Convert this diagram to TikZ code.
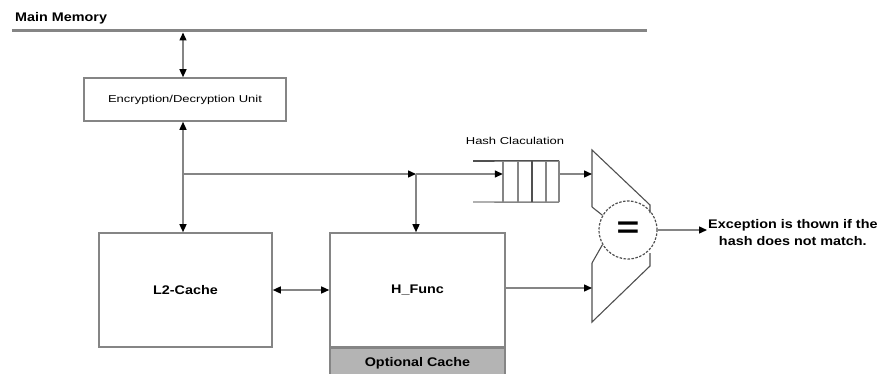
\documentclass[tikz,border=0pt]{standalone}
\usepackage{fontspec}
\usepackage{graphicx}
\setmainfont{Liberation Sans}
\newfontfamily\widefont[FakeStretch=1.3]{Liberation Sans}
\newfontfamily\boldwide[FakeStretch=1.15]{Liberation Sans}
\usetikzlibrary{arrows.meta}
\definecolor{linegray}{HTML}{858585}
\definecolor{darkline}{HTML}{505050}
\definecolor{cachegray}{HTML}{B4B4B4}
\begin{document}
\begin{tikzpicture}[x=1pt,y=-1pt,
  wire/.style={draw=linegray,line width=1.4pt},
  tipend/.style={-{Triangle[length=8pt,width=7pt,color=black]}},
  tipboth/.style={{Triangle[length=8pt,width=7pt,color=black]}-{Triangle[length=8pt,width=7pt,color=black]}},
  box/.style={draw=linegray,line width=1.6pt,fill=white,inner sep=0pt},
  boldlbl/.style={font=\boldwide\bfseries\fontsize{12.5}{17}\selectfont},
  smalllbl/.style={font=\widefont\fontsize{10}{12}\selectfont},
  cmpline/.style={draw=darkline,line width=1.1pt}]
\useasboundingbox (0,0) rectangle (877,374);

% main memory bus
\node[boldlbl,anchor=west,inner sep=0pt] (mm) at (15,18) {Main Memory};
\coordinate (busL) at (12,31);
\coordinate (busR) at (647,31);
\draw[draw=linegray,line width=3pt] (busL) -- (busR);
\coordinate (busE) at (183,32.5);

% boxes
\node[box,minimum width=202pt,minimum height=43pt,smalllbl] (enc) at (185,99.5) {Encryption/Decryption Unit};
\node[box,minimum width=173pt,minimum height=114pt,boldlbl] (l2) at (185.5,290) {L2-Cache};
\node[box,minimum width=175pt,minimum height=114pt,boldlbl] (hf) at (417.5,290) {H\_Func};
\node[box,fill=cachegray,minimum width=175pt,minimum height=30pt,anchor=north,boldlbl] (oc) at (hf.south) {Optional Cache};

% queue
\node[minimum width=56pt,minimum height=41pt,inner sep=0pt] (qu) at (531,181.5) {};
\node[smalllbl] (hc) at (515,141) {Hash Claculation};
\coordinate (qTL) at (473,161);
\coordinate (qBL) at (473,202);
\draw[draw=darkline,line width=1.6pt] (qTL) -- (qu.north east);
\draw[wire] (qBL) -- (qu.south east);
\foreach \xx in {503,518,546,559}{
  \draw[wire] (\xx,161) -- (\xx,202);
}
\draw[draw=darkline,line width=1.6pt] (532,161) -- (532,202);

% comparator
\node[circle,draw=darkline,line width=1.2pt,dash pattern=on 2.5pt off 1.5pt,minimum size=58pt,inner sep=0pt,
      font=\fontsize{30}{30}\selectfont\bfseries] (cmp) at (628,230) {\scalebox{1.3}[1]{=}};
\draw[cmpline] (592,207) -- (592,150) -- (650,205) -- (650,213);
\draw[cmpline] (592,207) -- (cmp.150);
\draw[cmpline] (592,263) -- (592,322) -- (650,266) -- (650,253);
\draw[cmpline] (592,263) -- (cmp.210);
\coordinate (cin1) at (592,174);
\coordinate (cin2) at (592,288);

% exception text
\node[boldlbl,align=center,anchor=west,inner sep=1pt] (exc) at (707,233) {Exception is thown if the\\hash does not match.};

% connectors
\coordinate (j1) at (183,174);
\coordinate (j2) at (416,174);
\draw[wire,tipboth] (busE) -- (enc.north -| busE);
\draw[wire,tipboth] (enc.south -| busE) -- (l2.north -| busE);
\draw[wire,tipend] (j1) -- (j2);
\draw[wire,tipend] (j2) -- (qu.west |- j2);
\draw[wire,tipend] (j2) -- (hf.north -| j2);
\draw[wire,tipboth] (l2.east) -- (hf.west);
\draw[wire,tipend] (qu.east |- cin1) -- (cin1);
\draw[wire,tipend] (hf.east |- cin2) -- (cin2);
\draw[wire,tipend] (cmp.east) -- (exc.west |- cmp.east);
\end{tikzpicture}
\end{document}
